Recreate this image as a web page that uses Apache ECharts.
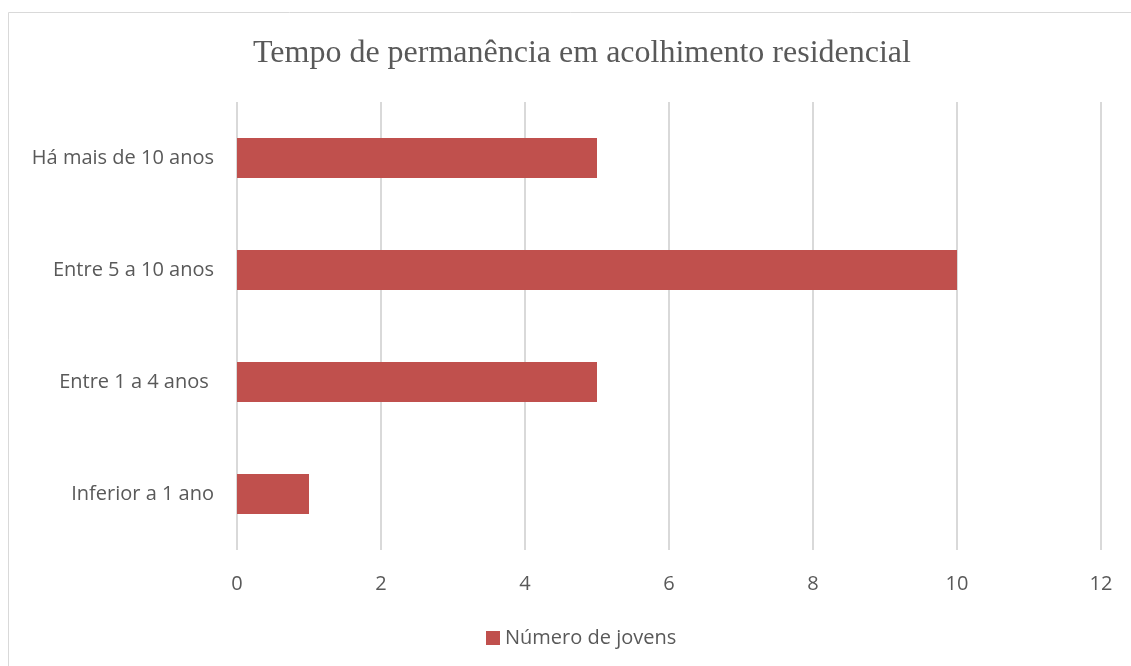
<!DOCTYPE html>
<html>
<head>
<meta charset="utf-8">
<script src="https://cdn.jsdelivr.net/npm/echarts@6/dist/echarts.min.js"></script>
<style>
  html, body { margin: 0; padding: 0; background: #fff; }
  #chart { width: 1131px; height: 666px; }
</style>
</head>
<body>
<div id="chart"></div>
<script>
  var categories = ["Inferior a 1 ano", "Entre 1 a 4 anos ", "Entre 5 a 10 anos", "Há mais de 10 anos"];
  var jovens = [1, 5, 10, 5];
  var seriesName = "Número de jovens";

  var chart = echarts.init(document.getElementById("chart"), null, { renderer: "canvas" });
  chart.setOption({
    animation: false,
    title: {
      text: "Tempo de permanência em acolhimento residencial",
      left: 248,
      top: 33,
      textStyle: { fontFamily: "Liberation Serif", fontSize: 32, fontWeight: "normal", color: "#595959" }
    },
    graphic: [{
      type: "rect",
      shape: { x: 8.5, y: 12.5, width: 1130, height: 700 },
      style: { fill: "none", stroke: "#d9d9d9", lineWidth: 1 },
      silent: true
    }],
    legend: {
      top: 623,
      left: 481,
      icon: "rect",
      itemWidth: 14,
      itemHeight: 14,
      itemGap: 6,
      textStyle: { fontFamily: "Open Sans", fontSize: 20, color: "#595959", padding: [0, 0, 0, 0] },
      data: [seriesName]
    },
    grid: { left: 237, right: 30, top: 102, bottom: 116, containLabel: false },
    xAxis: {
      type: "value",
      min: 0,
      max: 12,
      interval: 2,
      axisLine: { show: false },
      axisTick: { show: false },
      axisLabel: { fontFamily: "Open Sans", fontSize: 20, color: "#595959", margin: 24 },
      splitLine: { show: true, lineStyle: { color: "#d9d9d9", width: 2 } }
    },
    yAxis: {
      type: "category",
      data: categories,
      axisLine: { show: false },
      axisTick: { show: false },
      axisLabel: { fontFamily: "Open Sans", fontSize: 20, color: "#595959", margin: 23 }
    },
    series: [{
      name: seriesName,
      type: "bar",
      data: jovens,
      barWidth: 40,
      itemStyle: { color: "#C0504D" }
    }]
  });
</script>
</body>
</html>
